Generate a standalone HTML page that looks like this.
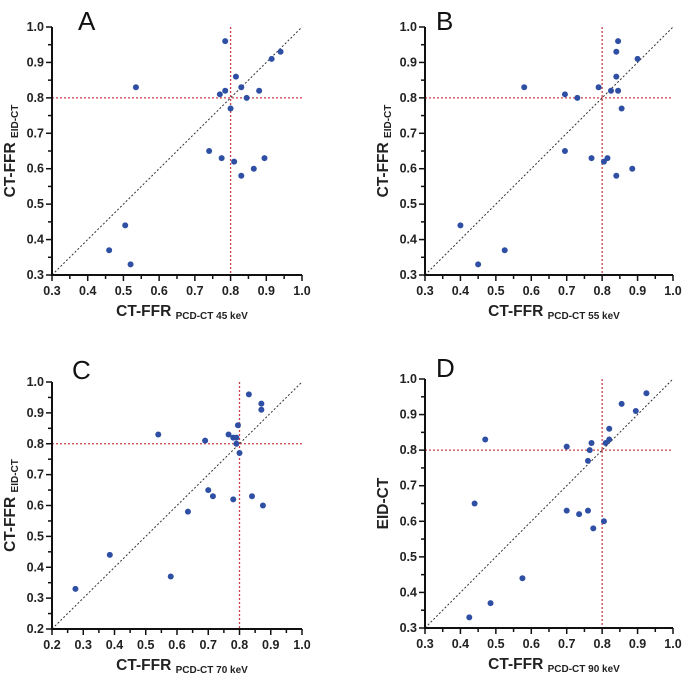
<!DOCTYPE html>
<html><head><meta charset="utf-8"><style>
body{margin:0;background:#fff}
svg text{font-family:"Liberation Sans",Arial,sans-serif}
</style></head><body>
<svg id="s" width="685" height="679" viewBox="0 0 685 679" xmlns="http://www.w3.org/2000/svg"></svg>
<script>
const xA=[0.785,0.94,0.915,0.815,0.535,0.83,0.77,0.785,0.88,0.845,0.80,0.74,0.775,0.81,0.895,0.865,0.83,0.505,0.46,0.52];
const yA=[0.96,0.93,0.91,0.86,0.83,0.83,0.81,0.82,0.82,0.80,0.77,0.65,0.63,0.62,0.63,0.60,0.58,0.44,0.37,0.33];
const xB=[0.845,0.84,0.90,0.84,0.58,0.79,0.695,0.73,0.825,0.845,0.855,0.695,0.77,0.815,0.805,0.885,0.84,0.40,0.525,0.45];
const yB=[0.96,0.93,0.91,0.86,0.83,0.83,0.81,0.80,0.82,0.82,0.77,0.65,0.63,0.63,0.62,0.60,0.58,0.44,0.37,0.33];
const xC=[0.83,0.87,0.87,0.795,0.54,0.765,0.69,0.78,0.79,0.79,0.80,0.70,0.715,0.78,0.84,0.875,0.635,0.385,0.58,0.275];
const yC=[0.96,0.93,0.91,0.86,0.83,0.83,0.81,0.82,0.82,0.80,0.77,0.65,0.63,0.62,0.63,0.60,0.58,0.44,0.37,0.33];
const xD=[0.925,0.855,0.895,0.82,0.47,0.82,0.81,0.77,0.70,0.765,0.76,0.44,0.70,0.735,0.76,0.805,0.775,0.575,0.485,0.425];
const yD=[0.96,0.93,0.91,0.86,0.83,0.83,0.82,0.82,0.81,0.80,0.77,0.65,0.63,0.62,0.63,0.60,0.58,0.44,0.37,0.33];
const ticks3=[0.3,0.4,0.5,0.6,0.7,0.8,0.9,1.0];
const ticks2=[0.2,0.3,0.4,0.5,0.6,0.7,0.8,0.9,1.0];
const NS="http://www.w3.org/2000/svg";
const svg=document.getElementById('s');
function el(tag,attrs,parent,text){const e=document.createElementNS(NS,tag);for(const k in attrs)e.setAttribute(k,attrs[k]);if(text!==undefined)e.textContent=text;(parent||svg).appendChild(e);return e;}
const panels=[
 {id:'a',letter:'A',L:52,R:302,T:27,B:275,min:0.3,ticks:ticks3,xs:xA,ys:yA,xlab:'PCD-CT 45 keV',ylab:'CT-FFR',ysub:'EID-CT',lx:78,ly:22},
 {id:'b',letter:'B',L:425,R:673,T:27,B:275,min:0.3,ticks:ticks3,xs:xB,ys:yB,xlab:'PCD-CT 55 keV',ylab:'CT-FFR',ysub:'EID-CT',lx:436,ly:22},
 {id:'c',letter:'C',L:52,R:302,T:382,B:629,min:0.2,ticks:ticks2,xs:xC,ys:yC,xlab:'PCD-CT 70 keV',ylab:'CT-FFR',ysub:'EID-CT',lx:72,ly:371},
 {id:'d',letter:'D',L:425,R:673,T:379,B:628,min:0.3,ticks:ticks3,xs:xD,ys:yD,xlab:'PCD-CT 90 keV',ylab:'EID-CT',ysub:'',lx:436,ly:369}
];
panels.forEach(p=>{
 const g=el('g',{});
 
 
 const sx=v=>p.L+(v-p.min)/(1-p.min)*(p.R-p.L);
 const sy=v=>p.B-(v-p.min)/(1-p.min)*(p.B-p.T);
 const lt=el('text',{x:p.lx,y:p.ly+8,'font-size':26,fill:'#111'},g,p.letter);
 
 
 const h=el('line',{x1:p.L,x2:p.R,y1:sy(0.8),y2:sy(0.8),stroke:'#c8404a','stroke-width':1.3,'stroke-dasharray':'2,2'},g);
 
 
 const v=el('line',{x1:sx(0.8),x2:sx(0.8),y1:p.T,y2:p.B,stroke:'#c8404a','stroke-width':1.3,'stroke-dasharray':'2,2'},g);
 
 
 const d=el('line',{x1:sx(p.min),y1:sy(p.min),x2:sx(1),y2:sy(1),stroke:'#333','stroke-width':1,'stroke-dasharray':'2,2'},g);
 
 
 const ax=el('path',{d:`M${p.L},${p.T}V${p.B}H${p.R}`,fill:'none',stroke:'#111','stroke-width':2},g);
 
 
 for(let t=p.min;t<=1.0001;t+=0.05){
  const major=Math.abs(Math.round(t*10)-t*10)<1e-6;
  const len=major?6:4;
  el('line',{x1:sx(t),x2:sx(t),y1:p.B,y2:p.B+len,stroke:'#111','stroke-width':1.5},g);
  el('line',{x1:p.L-len,x2:p.L,y1:sy(t),y2:sy(t),stroke:'#111','stroke-width':1.5},g);
 }
 p.ticks.forEach(t=>{
  const tx=el('text',{x:sx(t),y:p.B+20,'font-size':12.5,'font-weight':'bold','text-anchor':'middle',fill:'#222'},g,t.toFixed(1));
  
  
  const ty=el('text',{x:p.L-8,y:sy(t)+4,'font-size':12.5,'font-weight':'bold','text-anchor':'end',fill:'#222'},g,t.toFixed(1));
  
  
 });
 const xt=el('text',{x:(p.L+p.R)/2+5,y:p.B+41,'font-size':15.5,'font-weight':'bold','text-anchor':'middle',fill:'#222'},g);
 
 
 el('tspan',{},xt,'CT-FFR ');
 el('tspan',{'font-size':10,dy:3},xt,p.xlab);
 const cy=(p.T+p.B)/2, cx=p.L-37;
 const yt=el('text',{x:cx,y:cy,'font-size':15.5,'font-weight':'bold','text-anchor':'middle',fill:'#222',transform:`rotate(-90 ${cx} ${cy})`},g);
 
 
 el('tspan',{},yt,p.ylab+(p.ysub?' ':''));
 if(p.ysub) el('tspan',{'font-size':10,dy:3},yt,p.ysub);
 p.xs.forEach((xv,i)=>{
  const c=el('circle',{cx:sx(xv),cy:sy(p.ys[i]),r:3,fill:'#2e4fa3'},g);
  
  
 });
});
</script>
</body></html>
